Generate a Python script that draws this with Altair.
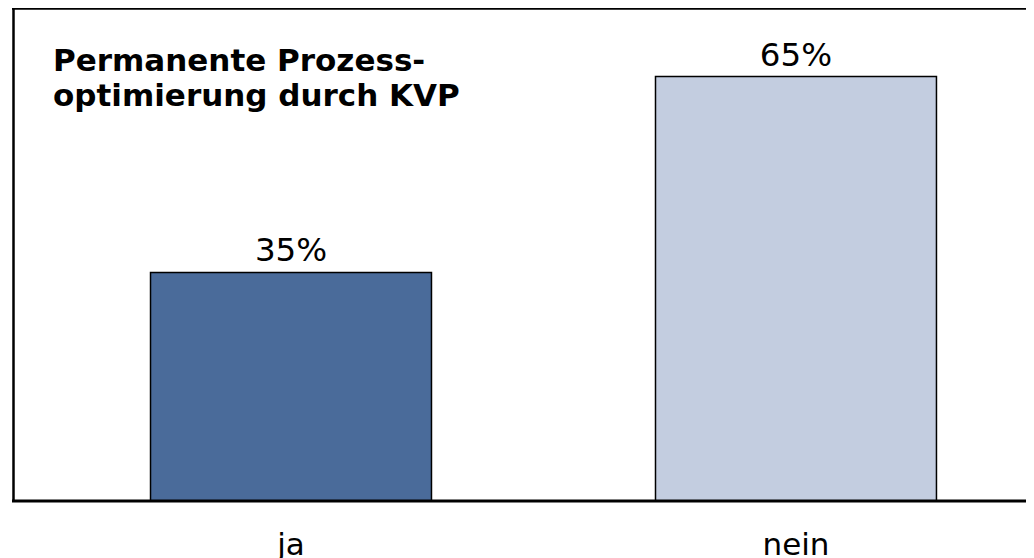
import altair as alt
import pandas as pd

categories = ["ja", "nein"]
values = [35, 65]
labels = ["35%", "65%"]
colors = ["#4A6B9A", "#C3CDE0"]
title_text = "Permanente Prozess-\noptimierung durch KVP"

W, H = 1014, 493
FONT = "DejaVu Sans"

df = pd.DataFrame({"cat": categories, "val": values, "label": labels})

xscale = alt.Scale(domain=categories, paddingInner=0.4436, paddingOuter=0.2258, align=0.6074)
yscale = alt.Scale(domain=[0, 75.5], nice=False, zero=True)

x = alt.X("cat:N", scale=xscale, sort=categories,
          axis=alt.Axis(title=None, domain=False, ticks=False, labelAngle=0,
                        labelFontSize=31, labelFont=FONT, labelColor="black",
                        labelPadding=53, labelBaseline="alphabetic"))

base = alt.Chart(df)

bars = base.mark_bar(stroke="black", strokeWidth=1.5).encode(
    x=x,
    y=alt.Y("val:Q", scale=yscale, axis=None),
    color=alt.Color("cat:N", scale=alt.Scale(domain=categories, range=colors), legend=None),
)

text = base.mark_text(baseline="alphabetic", dy=-11, fontSize=32.5, font=FONT, color="black").encode(
    x=alt.X("cat:N", scale=xscale, sort=categories),
    y=alt.Y("val:Q", scale=yscale),
    text="label:N",
)

title = alt.Chart(pd.DataFrame({"t": [title_text]})).mark_text(
    align="left", baseline="alphabetic", lineBreak="\n", lineHeight=35,
    fontSize=31, fontWeight="bold", font=FONT, color="black"
).encode(x=alt.value(41), y=alt.value(63), text="t:N")

border_df = pd.DataFrame({"k": [0]})
top = alt.Chart(border_df).mark_rule(color="black", strokeWidth=2.5).encode(
    x=alt.value(0), x2=alt.value(W), y=alt.value(0.5))
left = alt.Chart(border_df).mark_rule(color="black", strokeWidth=2.5).encode(
    x=alt.value(1.5), y=alt.value(0), y2=alt.value(H))
bottom = alt.Chart(border_df).mark_rule(color="black", strokeWidth=3).encode(
    x=alt.value(0), x2=alt.value(W), y=alt.value(H))

chart = alt.layer(bars, text, title, top, left, bottom).properties(
    width=W, height=H,
    autosize=alt.AutoSizeParams(type="none"),
    padding={"left": 4, "top": 0, "right": 0, "bottom": 57},
).configure_view(strokeWidth=0)

chart.save("out.html", embed_options={"renderer": "svg", "actions": False})
